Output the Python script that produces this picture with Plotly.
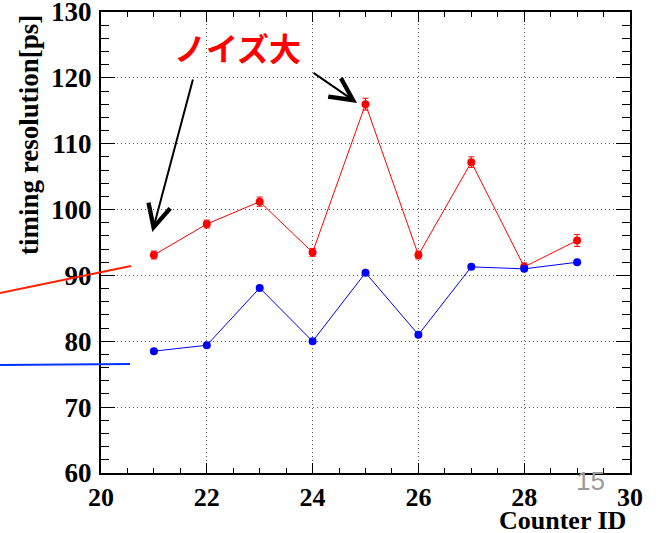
import plotly.graph_objects as go

# Counter IDs and measured timing resolution [ps]
counter_id = [21, 22, 23, 24, 25, 26, 27, 28, 29]
res_red = [93.1, 97.8, 101.2, 93.5, 116.0, 93.1, 107.2, 91.3, 95.3]
err_red = [0.6, 0.6, 0.7, 0.6, 0.9, 0.6, 0.8, 0.6, 0.9]
res_blue = [78.5, 79.4, 88.1, 80.0, 90.4, 81.0, 91.3, 91.0, 92.0]
err_blue = [0.3, 0.3, 0.3, 0.3, 0.3, 0.3, 0.3, 0.3, 0.3]

x_ticks = [20, 22, 24, 26, 28, 30]
y_ticks = [60, 70, 80, 90, 100, 110, 120, 130]

W, H = 658, 533
L, R, T, B = 101, 28, 12, 60
PW, PH = W - L - R, H - T - B


def px(x, y):
    """pixel position -> paper coordinates"""
    return (x - L) / PW, (H - B - y) / PH


SERIF = "Liberation Serif"

fig = go.Figure()

fig.add_trace(go.Scatter(
    x=counter_id, y=res_red, mode="lines+markers",
    line=dict(color="#ff0000", width=1),
    marker=dict(color="#ff0000", size=8),
    error_y=dict(type="data", array=err_red, color="#ff0000", thickness=1, width=3),
    showlegend=False,
))
fig.add_trace(go.Scatter(
    x=counter_id, y=res_blue, mode="lines+markers",
    line=dict(color="#0000ff", width=1),
    marker=dict(color="#0000ff", size=8),
    error_y=dict(type="data", array=err_blue, color="#0000ff", thickness=1, width=3),
    showlegend=False,
))

axis_common = dict(
    showline=True, linewidth=2, linecolor="black", mirror="allticks",
    ticks="inside", tickcolor="black", tickwidth=1,
    showgrid=True, gridcolor="#555555", griddash="1px,3px", gridwidth=1,
    zeroline=False, automargin=False, ticklabeloverflow="allow",
)

fig.update_xaxes(
    range=[20, 30], tickvals=x_ticks, ticklen=10,
    tickfont=dict(family=SERIF, size=26, color="black", weight="bold"),
    minor=dict(dtick=0.5, ticks="inside", ticklen=5, tickcolor="black", showgrid=False),
    **axis_common,
)
fig.update_yaxes(
    range=[60, 130], tickvals=y_ticks, ticklen=14, ticklabelstandoff=2,
    tickfont=dict(family=SERIF, size=27, color="black", weight="bold"),
    minor=dict(dtick=2, ticks="inside", ticklen=8, tickcolor="black", showgrid=False),
    **axis_common,
)

# axis titles
tx, ty = px(628, 520)
fig.add_annotation(text="Counter ID", xref="paper", yref="paper", x=tx, y=ty,
                   xanchor="right", yanchor="middle", showarrow=False,
                   font=dict(family=SERIF, size=26, color="black", weight="bold"))
tx, ty = px(29, 13)
fig.add_annotation(text="timing resolution[ps]", xref="paper", yref="paper", x=tx, y=ty,
                   xanchor="center", yanchor="top", textangle=-90, showarrow=False,
                   font=dict(family=SERIF, size=27, color="black", weight="bold"))

# note and arrows
tx, ty = px(237, 47)
fig.add_annotation(text="ノイズ大", xref="paper", yref="paper", x=tx, y=ty,
                   xanchor="center", yanchor="middle", showarrow=False,
                   font=dict(family="Noto Sans CJK JP", size=32, color="#ff0000", weight="bold"))
fig.add_annotation(text="", x=20.97, y=96.6, ax=41, ay=-154, showarrow=True,
                   arrowhead=5, arrowwidth=2, arrowsize=2.2, arrowcolor="black")
fig.add_annotation(text="", x=24.84, y=116.2, ax=-45, ay=-31, showarrow=True,
                   arrowhead=5, arrowwidth=2, arrowsize=2.2, arrowcolor="black")

# slide decorations on the left edge
x0, y0 = px(0, 293)
x1, y1 = px(131, 266)
fig.add_shape(type="line", xref="paper", yref="paper", x0=x0, y0=y0, x1=x1, y1=y1,
              line=dict(color="#ff2200", width=2))
x0, y0 = px(0, 365)
x1, y1 = px(130, 364)
fig.add_shape(type="line", xref="paper", yref="paper", x0=x0, y0=y0, x1=x1, y1=y1,
              line=dict(color="#0033ff", width=2))

# page number
tx, ty = px(590, 481)
fig.add_annotation(text="15", xref="paper", yref="paper", x=tx, y=ty,
                   xanchor="center", yanchor="middle", showarrow=False,
                   font=dict(family="Liberation Sans", size=26, color="#9a9a9a"))

fig.update_layout(
    width=W, height=H,
    margin=dict(l=L, r=R, t=T, b=B),
    paper_bgcolor="white", plot_bgcolor="white",
)

fig.write_html("out.html")
